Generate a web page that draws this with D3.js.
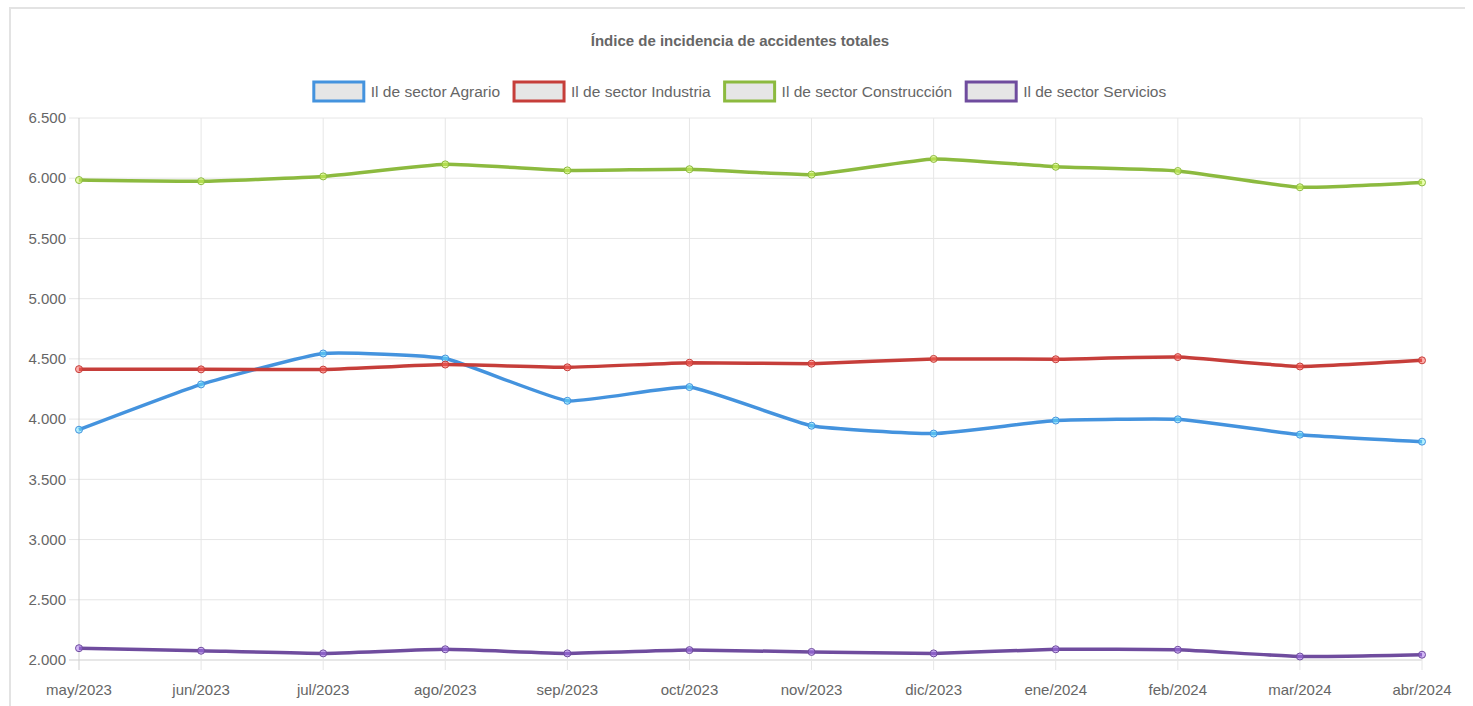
<!DOCTYPE html>
<html>
<head>
<meta charset="utf-8">
<script src="https://cdn.jsdelivr.net/npm/d3@7"></script>
<style>
  body { margin: 0; background: #fff; }
  svg { display: block; }
  text { font-family: "Liberation Sans", Arial, sans-serif; fill: #666; }
</style>
</head>
<body>
<svg width="1473" height="706"></svg>
<script>
const months = ["may/2023", "jun/2023", "jul/2023", "ago/2023", "sep/2023", "oct/2023",
  "nov/2023", "dic/2023", "ene/2024", "feb/2024", "mar/2024", "abr/2024"]
const seriesNames = ["Il de sector Agrario", "Il de sector Industria", "Il de sector Construcción", "Il de sector Servicios"]
const agrario = [3912, 4288, 4545, 4503, 4152, 4266, 3945, 3880, 3988, 3998, 3871, 3813]
const industria = [4415, 4413, 4411, 4453, 4430, 4468, 4460, 4500, 4497, 4515, 4437, 4488]
const construccion = [5985, 5975, 6015, 6115, 6065, 6075, 6030, 6160, 6095, 6060, 5925, 5965]
const servicios = [2098, 2077, 2055, 2089, 2055, 2082, 2067, 2055, 2089, 2085, 2029, 2044]
const yTicks = [2000, 2500, 3000, 3500, 4000, 4500, 5000, 5500, 6000, 6500]
const colors = ["#4493de", "#c63e3a", "#8cba3f", "#6f4c9e"]

const series = [agrario, industria, construccion, servicios]

const svg = d3.select('svg')

// outer panel border
svg.append('path')
  .attr('d', 'M10,706 L10,8 L1465,8')
  .attr('fill', 'none')
  .attr('stroke', '#e3e3e3')
  .attr('stroke-width', 2)

const x = d3.scalePoint().domain(months).range([79, 1422])
const y = d3.scaleLinear().domain([2000, 6500]).range([660, 118])

const fmt = d => d3.format(',.0f')(d).replace(',', '.')

// grid
svg.append('g').selectAll('line')
  .data(yTicks).enter().append('line')
  .attr('x1', 69).attr('x2', x.range()[1])
  .attr('y1', d => y(d)).attr('y2', d => y(d))
  .attr('stroke', d => d === 2000 ? '#cfcfcf' : '#e6e6e6')
  .attr('stroke-width', 1)

svg.append('g').selectAll('line')
  .data(months).enter().append('line')
  .attr('x1', d => x(d)).attr('x2', d => x(d))
  .attr('y1', y(6500)).attr('y2', 670)
  .attr('stroke', (d, i) => i === 0 ? '#cfcfcf' : '#e6e6e6')
  .attr('stroke-width', 1)

// y labels
svg.append('g').selectAll('text')
  .data(yTicks).enter().append('text')
  .attr('x', 66).attr('y', d => y(d))
  .attr('dy', '0.35em')
  .attr('text-anchor', 'end')
  .style('font-size', '15px')
  .text(d => fmt(d))

// x labels
svg.append('g').selectAll('text')
  .data(months).enter().append('text')
  .attr('x', d => x(d)).attr('y', 690)
  .attr('dy', '0.35em')
  .attr('text-anchor', 'middle')
  .style('font-size', '15px')
  .text(d => d)

// title
svg.append('text')
  .attr('x', 740).attr('y', 41)
  .attr('dy', '0.35em')
  .attr('text-anchor', 'middle')
  .style('font-size', '15px')
  .style('font-weight', 'bold')
  .text('Índice de incidencia de accidentes totales')

// lines
const line = d3.line()
  .x((d, i) => x(months[i]))
  .y(d => y(d))
  .curve(d3.curveCardinal.tension(0.6))

series.forEach((vals, si) => {
  svg.append('path')
    .datum(vals)
    .attr('d', line)
    .attr('fill', 'none')
    .attr('stroke', colors[si])
    .attr('stroke-width', 3.5)

  svg.append('g').selectAll('circle')
    .data(vals).enter().append('circle')
    .attr('cx', (d, i) => x(months[i]))
    .attr('cy', d => y(d))
    .attr('r', 3.5)
    .attr('fill', d3.color(colors[si]).brighter(1.2))
    .attr('fill-opacity', 0.5)
    .attr('stroke', colors[si])
    .attr('stroke-width', 1)
})

// legend
const legend = svg.append('g')
const items = legend.selectAll('g')
  .data(seriesNames).enter().append('g')

items.append('rect')
  .attr('width', 50).attr('height', 19)
  .attr('fill', '#e6e6e6')
  .attr('stroke', (d, i) => colors[i])
  .attr('stroke-width', 3)

items.append('text')
  .attr('x', 57).attr('y', 9.5)
  .attr('dy', '0.35em')
  .style('font-size', '15.5px')
  .text(d => d)

let offs = []
let cur = 0
items.each(function () {
  const w = d3.select(this).select('text').node().getComputedTextLength()
  offs.push(cur)
  cur += 57 + w + 14
})
const total = cur - 14
const startX = 740 - total / 2
items.attr('transform', (d, i) => `translate(${startX + offs[i]},82)`)
</script>
</body>
</html>
